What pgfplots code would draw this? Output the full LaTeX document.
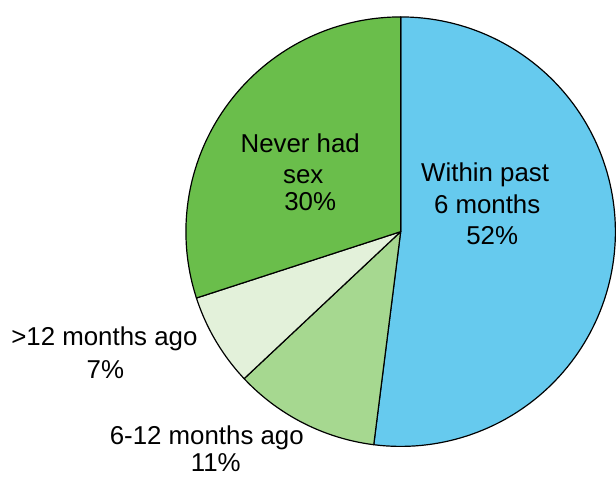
\documentclass[border=0pt]{standalone}
\usepackage{pgfplots}
\pgfplotsset{compat=1.18}
\usepackage{fontspec}
\setmainfont{Liberation Sans}
\definecolor{cblue}{HTML}{66CAEE}
\definecolor{cgreen}{HTML}{6ABE4B}
\definecolor{clight}{HTML}{A6D890}
\definecolor{cvlight}{HTML}{E3F1DA}
\begin{document}
\begin{tikzpicture}
% shares (percent), clockwise from the top
\def\pA{52}\def\pB{11}\def\pC{7}\def\pD{30}
\pgfmathsetmacro\aA{90}
\pgfmathsetmacro\aB{\aA-3.6*\pA}
\pgfmathsetmacro\aC{\aB-3.6*\pB}
\pgfmathsetmacro\aD{\aC-3.6*\pC}
\pgfmathsetmacro\aE{\aD-3.6*\pD}
\begin{axis}[scale only axis, width=308pt, height=239.5pt,
  xmin=0, xmax=616, ymin=0, ymax=479, y dir=reverse,
  hide axis, clip=false,
  every axis plot/.append style={draw=black, line width=0.6pt, samples=120, line join=round}]
\path (0,0) rectangle (616,479);
\addplot[fill=cblue, domain=\aB:\aA] ({403+216*cos(x)},{233-216*sin(x)}) -- (403,233) -- cycle;
\addplot[fill=clight, domain=\aC:\aB] ({403+216*cos(x)},{233-216*sin(x)}) -- (403,233) -- cycle;
\addplot[fill=cvlight, domain=\aD:\aC] ({403+216*cos(x)},{233-216*sin(x)}) -- (403,233) -- cycle;
\addplot[fill=cgreen, domain=\aE:\aD] ({403+216*cos(x)},{233-216*sin(x)}) -- (403,233) -- cycle;
\begin{scope}[every node/.style={font=\fontsize{13}{15}\selectfont, anchor=base, inner sep=0pt}]
\node at (488,183) {Within past};
\node at (490,215) {6 months};
\node at (495,246) {52\%};
\node at (302,153) {Never had};
\node at (305,185) {sex};
\node at (312,212) {30\%};
\node at (105,347) {>12 months ago};
\node at (106,381) {7\%};
\node at (208,447) {6-12 months ago};
\node at (217,474) {11\%};
\end{scope}
\end{axis}
\end{tikzpicture}
\end{document}
